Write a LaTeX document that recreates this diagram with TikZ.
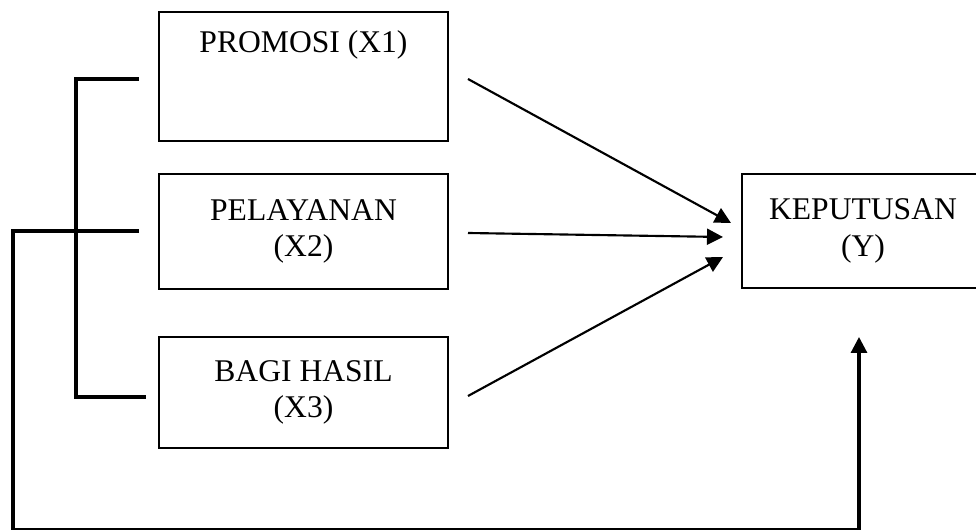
\documentclass[tikz,border=0pt]{standalone}
\usepackage{fontspec}
\setmainfont{Liberation Serif}
\usetikzlibrary{arrows.meta}
\begin{document}
\begin{tikzpicture}[x=0.75pt,y=-0.75pt,
  box/.style={draw=black,line width=1.1pt,rectangle,inner sep=0pt,align=center,
    font=\fontsize{23.7}{27.5}\selectfont},
  lbl/.style={inner sep=0pt,font=\fontsize{23.7}{27.5}\selectfont},
  thickline/.style={line width=2.3pt},
  arr/.style={line width=1.6pt,-{Triangle[length=12pt,width=12pt]}}]
\useasboundingbox (0,0) rectangle (976,530);
\clip (0,0) rectangle (976,530);
\node[box,minimum width=216.75pt,minimum height=96.75pt] (x1) at (303.5,76.5) {};
\node[lbl,anchor=base] (x1t) at (303.5,53) {PROMOSI (X1)};
\node[box,minimum width=216.75pt,minimum height=86.25pt] (x2) at (303.5,231.5) {PELAYANAN\\(X2)};
\node[box,minimum width=216.75pt,minimum height=83.25pt] (x3) at (303.5,392.5) {BAGI HASIL\\(X3)};
\node[box,minimum width=181.5pt,minimum height=85.5pt] (y) at (863,231) {KEPUTUSAN\\(Y)};
% arrow endpoints
\coordinate (a1s) at (468,79);  \coordinate (a1e) at (731,223);
\coordinate (a2s) at (468,233); \coordinate (a2e) at (723,237);
\coordinate (a3s) at (468,396); \coordinate (a3e) at (723,257);
\draw[arr] (a1s) -- (a1e);
\draw[arr] (a2s) -- (a2e);
\draw[arr] (a3s) -- (a3e);
% bracket
\coordinate (b1) at (139,79);
\coordinate (b3) at (146,397);
\coordinate (b2) at (139,231);
\draw[thickline] (b1) -- (76,79) -- (76,397) -- (b3);
\coordinate (yin) at (859,337);
\draw[thickline] (b2) -- (13,231) -- (13,530) -- (859,530) -- (859,350);
\draw[line width=2.3pt,-{Triangle[length=12pt,width=12pt]}] (859,360) -- (yin);
\end{tikzpicture}
\end{document}
